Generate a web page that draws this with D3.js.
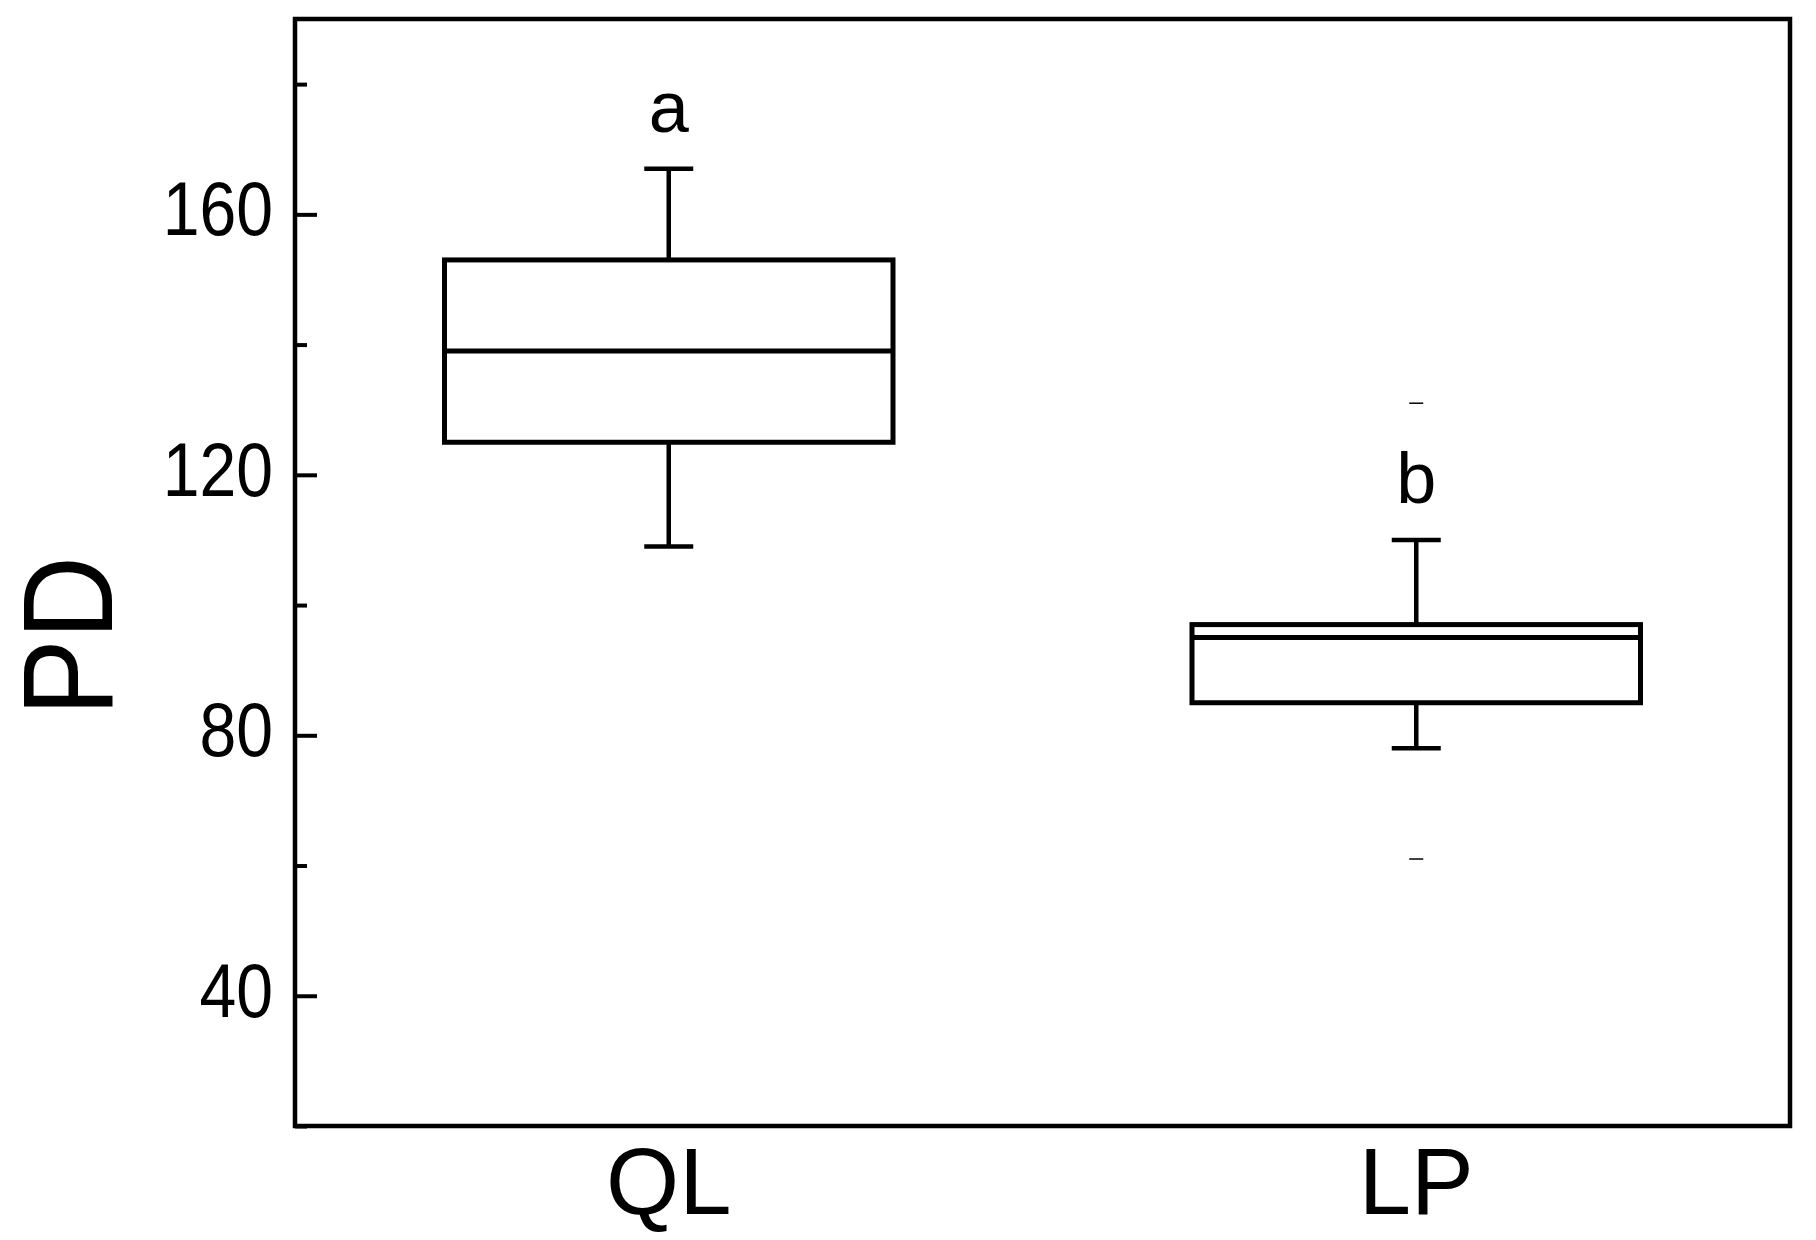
<!DOCTYPE html>
<html>
<head>
<meta charset="utf-8">
<script src="https://cdn.jsdelivr.net/npm/d3@7"></script>
<style>
  body { margin: 0; background: #fff; }
  text { font-family: "Liberation Sans", Arial, sans-serif; fill: #000; }
</style>
</head>
<body>
<div id="chart"></div>
<script>
// box plot values
const groups = ["QL", "LP"];
const whiskerLow = [109, 78];
const q1 = [125, 85];
const median = [139, 95];
const q3 = [153, 97];
const whiskerHigh = [167, 110];
const outliers = [[], [131, 61]];
const letters = ["a", "b"];

const majorTicks = [40, 80, 120, 160];
const minorTicks = [20, 60, 100, 140, 180];

const W = 1816, H = 1240;
const margin = { top: 19, right: 26, bottom: 114, left: 295 };
const width = W - margin.left - margin.right,
  height = H - margin.top - margin.bottom;

const svg = d3
  .select("#chart")
  .append("svg")
  .attr("width", W)
  .attr("height", H);

const g = svg
  .append("g")
  .attr("transform", "translate(" + margin.left + "," + margin.top + ")");

const y = d3.scaleLinear().domain([20, 190]).range([height, 0]);
const x = d3.scalePoint().domain(groups).range([0, width]).padding(0.5);
const boxW = x.step() * 0.6;
const capW = 49;
const narrow = 0.87; // tick numbers are set in a condensed face

// minor ticks (unlabelled)
g.append("g")
  .call(d3.axisLeft(y).tickValues(minorTicks).tickSize(-12).tickFormat(""))
  .call(a => a.select(".domain").remove())
  .selectAll("line")
  .attr("stroke", "#000")
  .attr("stroke-width", 4);

// major ticks with labels
const yAx = g
  .append("g")
  .call(d3.axisLeft(y).tickValues(majorTicks).tickSize(-22));
yAx.select(".domain").remove();
yAx.selectAll("line").attr("stroke", "#000").attr("stroke-width", 4);
yAx.selectAll("text")
  .attr("font-size", 76)
  .attr("x", -22 / narrow)
  .attr("dy", "0.27em")
  .attr("transform", "scale(" + narrow + ",1)")
  .style("fill", "#000");

// frame
g.append("rect")
  .attr("x", 0)
  .attr("y", 0)
  .attr("width", width)
  .attr("height", height)
  .attr("fill", "none")
  .attr("stroke", "#000")
  .attr("stroke-width", 4.5);

// boxes
const box = g
  .selectAll("g.box")
  .data(groups)
  .enter()
  .append("g")
  .attr("class", "box")
  .attr("transform", d => "translate(" + x(d) + ",0)");

box.append("line")
  .attr("x1", 0).attr("x2", 0)
  .attr("y1", (d, i) => y(whiskerHigh[i]))
  .attr("y2", (d, i) => y(q3[i]))
  .attr("stroke", "#000").attr("stroke-width", 4.5);

box.append("line")
  .attr("x1", 0).attr("x2", 0)
  .attr("y1", (d, i) => y(q1[i]))
  .attr("y2", (d, i) => y(whiskerLow[i]))
  .attr("stroke", "#000").attr("stroke-width", 4.5);

box.append("line")
  .attr("x1", -capW / 2).attr("x2", capW / 2)
  .attr("y1", (d, i) => y(whiskerHigh[i]))
  .attr("y2", (d, i) => y(whiskerHigh[i]))
  .attr("stroke", "#000").attr("stroke-width", 4.5);

box.append("line")
  .attr("x1", -capW / 2).attr("x2", capW / 2)
  .attr("y1", (d, i) => y(whiskerLow[i]))
  .attr("y2", (d, i) => y(whiskerLow[i]))
  .attr("stroke", "#000").attr("stroke-width", 4.5);

box.append("rect")
  .attr("x", -boxW / 2)
  .attr("width", boxW)
  .attr("y", (d, i) => y(q3[i]))
  .attr("height", (d, i) => y(q1[i]) - y(q3[i]))
  .attr("fill", "#fff")
  .attr("stroke", "#000")
  .attr("stroke-width", 5);

box.append("line")
  .attr("x1", -boxW / 2).attr("x2", boxW / 2)
  .attr("y1", (d, i) => y(median[i]))
  .attr("y2", (d, i) => y(median[i]))
  .attr("stroke", "#000").attr("stroke-width", 5);

// outliers as small dashes
box.each(function(d, i) {
  d3.select(this)
    .selectAll("line.out")
    .data(outliers[i])
    .enter()
    .append("line")
    .attr("class", "out")
    .attr("x1", -7).attr("x2", 7)
    .attr("y1", v => y(v)).attr("y2", v => y(v))
    .attr("stroke", "#000").attr("stroke-width", 1.5);
});

// significance letters
box.append("text")
  .attr("text-anchor", "middle")
  .attr("y", (d, i) => y(whiskerHigh[i]) - 37)
  .attr("font-size", 72)
  .text((d, i) => letters[i]);

// category labels
g.selectAll("text.cat")
  .data(groups)
  .enter()
  .append("text")
  .attr("class", "cat")
  .attr("text-anchor", "middle")
  .attr("x", d => x(d))
  .attr("y", 1214 - margin.top)
  .attr("font-size", 94)
  .text(d => d);

// y label
svg.append("text")
  .attr("transform", "translate(112,636) rotate(-90) scale(0.9,1)")
  .attr("text-anchor", "middle")
  .attr("font-size", 128)
  .text("PD");
</script>
</body>
</html>
